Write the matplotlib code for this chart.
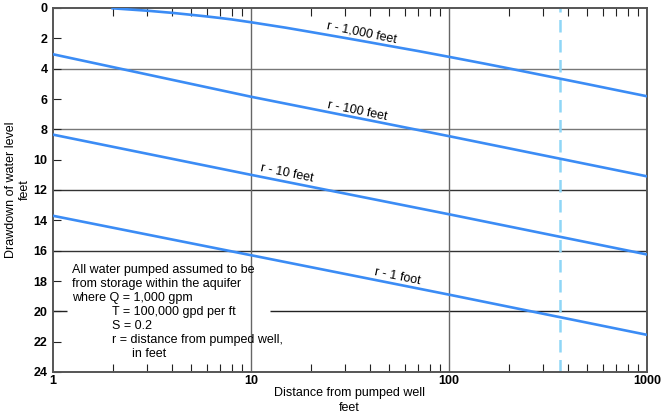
import matplotlib
matplotlib.use("Agg")
import matplotlib.pyplot as plt
from matplotlib.ticker import FixedLocator, NullFormatter, LogLocator

plt.rcParams['font.family'] = ['Liberation Sans', 'DejaVu Sans']

# Data
x_lines = [1, 10, 100, 1000]
r1_ft = [13.7, 16.3, 18.9, 21.55]
r10_ft = [8.35, 11.0, 13.6, 16.25]
r100_ft = [3.05, 5.85, 8.45, 11.1]

x_r1000 = [2, 3, 4, 5, 6, 7, 8, 10, 15, 20, 30, 40, 50, 70, 100, 150, 200, 300, 500, 700, 1000]
r1000_ft = [0.02, 0.18, 0.32, 0.45, 0.56, 0.66, 0.755, 0.94, 1.3, 1.58, 1.98, 2.27, 2.5, 2.84,
            3.22, 3.66, 3.98, 4.44, 5.02, 5.41, 5.82]

dash_x = 365
y_ticks = list(range(0, 25, 2))
x_ticks = [1, 10, 100, 1000]
x_ticklabels = ['1', '10', '100', '1000']

line_color = '#3b8cf5'

fig = plt.figure(figsize=(6.63, 4.17), dpi=100)
ax = fig.add_axes([53/663, 45/417, 594/663, 364/417])
ax.set_xscale('log')
ax.set_xlim(1, 1000)
ax.set_ylim(24, 0)

# grid lines
for yv in [4, 8]:
    ax.axhline(yv, color='#777777', lw=1.0, zorder=1)
for yv in [12, 16]:
    ax.axhline(yv, color='#333333', lw=1.0, zorder=1)
ax.hlines(20, 12.5, 1000, color='#222222', lw=1.0, zorder=1)
ax.hlines(20, 1, 1.17, color='#222222', lw=1.0, zorder=1)
for xv in [10, 100]:
    ax.axvline(xv, color='#666666', lw=1.0, zorder=1)

ax.axvline(dash_x, color='#8fd6f7', lw=1.8, ls=(0, (5, 3)), zorder=2)

for ys in [r1_ft, r10_ft, r100_ft]:
    ax.plot(x_lines, ys, color=line_color, lw=1.9, zorder=3)
ax.plot(x_r1000, r1000_ft, color=line_color, lw=1.9, zorder=3)

ax.set_yticks(y_ticks)
ax.set_yticklabels([str(v) for v in y_ticks], fontweight='bold', fontsize=9)
ax.xaxis.set_major_locator(FixedLocator(x_ticks))
ax.set_xticklabels(x_ticklabels, fontweight='bold', fontsize=9)
ax.xaxis.set_minor_locator(LogLocator(base=10, subs=range(2, 10)))
ax.xaxis.set_minor_formatter(NullFormatter())
ax.tick_params(axis='y', direction='in', length=6, width=0.8, color='#222222', pad=4)
ax.tick_params(axis='x', which='major', direction='in', length=0, pad=2)
ax.tick_params(axis='x', which='minor', direction='in', length=6, width=0.8,
               top=True, bottom=True, color='#222222')

for s in ax.spines.values():
    s.set_color('#555555')
    s.set_linewidth(1.4)

def px(xp, yp):
    return fig.transFigure.inverted().transform((xp, 417 - yp))

fig.text(*px(11, 190), 'Drawdown of water level', fontsize=9, rotation=90,
         ha='center', va='center')
fig.text(*px(25, 190), 'feet', fontsize=9, rotation=90, ha='center', va='center')
fig.text(*px(349, 393), 'Distance from pumped well', fontsize=9, ha='center', va='center')
fig.text(*px(349, 408), 'feet', fontsize=9, ha='center', va='center')

lbl_kw = dict(fontsize=9, rotation=-11.5, ha='center', va='center',
              transform=fig.transFigure, rotation_mode='anchor')
fig.text(*px(362, 33), 'r - 1,000 feet', **lbl_kw)
fig.text(*px(357, 111), 'r - 100 feet', **lbl_kw)
fig.text(*px(287, 173), 'r - 10 feet', **lbl_kw)
fig.text(*px(397, 277), 'r - 1 foot', **lbl_kw)

note_kw = dict(fontsize=9, ha='left', va='center', transform=fig.transFigure)
fig.text(*px(72, 270), 'All water pumped assumed to be', **note_kw)
fig.text(*px(72, 284), 'from storage within the aquifer', **note_kw)
fig.text(*px(72, 298), 'where Q = 1,000 gpm', **note_kw)
fig.text(*px(112, 312), 'T = 100,000 gpd per ft', **note_kw)
fig.text(*px(112, 326), 'S = 0.2', **note_kw)
fig.text(*px(112, 340), 'r = distance from pumped well,', **note_kw)
fig.text(*px(132, 354), 'in feet', **note_kw)

fig.savefig('out.png', dpi=100)
